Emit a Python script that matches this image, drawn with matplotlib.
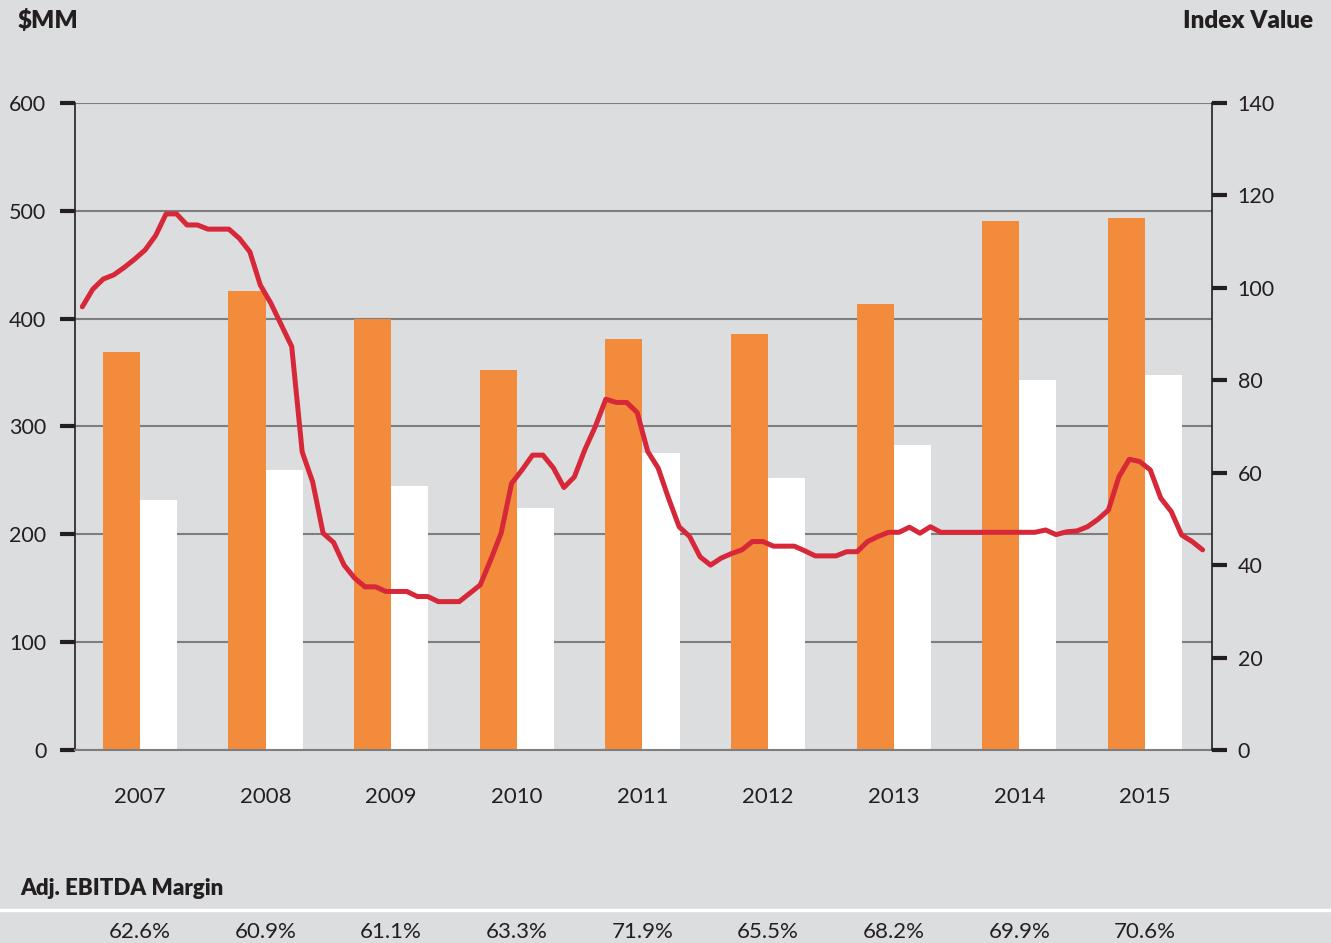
import numpy as np
import matplotlib.pyplot as plt
import matplotlib.transforms as mtrans
from matplotlib.lines import Line2D

plt.rcParams['font.family'] = ['Lato', 'DejaVu Sans']

# ---- data ----
years = ['2007', '2008', '2009', '2010', '2011', '2012', '2013', '2014', '2015']
revenue = [369, 426, 400, 352, 381, 386, 414, 491, 493]      # orange bars, $MM
ebitda = [232, 260, 245, 224, 275, 252, 283, 343, 348]       # white bars, $MM
margin = ['62.6%', '60.9%', '61.1%', '63.3%', '71.9%',
          '65.5%', '68.2%', '69.9%', '70.6%']
# monthly index value (right axis), mid-2006 .. mid-2015
index_val = [95.9, 99.7, 101.9, 102.8, 104.4, 106.2, 108.2, 111.3, 116.0, 116.0,
             113.6, 113.6, 112.7, 112.7, 112.7, 110.7, 107.8, 100.6, 96.7, 92.0,
             87.3, 64.5, 58.0, 46.9, 44.9, 40.0, 37.2, 35.3, 35.3, 34.3,
             34.3, 34.3, 33.2, 33.2, 32.1, 32.1, 32.1, 33.9, 35.7, 41.1,
             46.9, 57.7, 60.6, 63.8, 63.8, 61.0, 56.8, 59.1, 65.0, 70.0,
             75.9, 75.2, 75.2, 73.0, 64.6, 61.0, 54.4, 48.3, 46.2, 41.8,
             40.0, 41.5, 42.5, 43.3, 45.1, 45.1, 44.1, 44.1, 44.1, 43.1,
             42.0, 42.0, 42.0, 42.9, 42.9, 45.1, 46.2, 47.1, 47.1, 48.2,
             46.9, 48.3, 47.1, 47.1, 47.1, 47.1, 47.1, 47.1, 47.1, 47.1,
             47.1, 47.1, 47.6, 46.6, 47.2, 47.4, 48.3, 49.9, 51.9, 59.1,
             62.9, 62.4, 60.6, 54.5, 51.6, 46.5, 45.1, 43.3]

bg = '#dcdddf'
orange = '#f28b3c'
red = '#d62839'
dark = '#231f20'
gridc = '#7d7e80'

fig = plt.figure(figsize=(13.31, 9.43), dpi=100, facecolor=bg)
ax = fig.add_axes([0.0563, 0.2047, 0.8543, 0.6861])
ax.set_facecolor(bg)

x = np.arange(len(years))
w = 0.295
ax.bar(x - w / 2, revenue, w, color=orange, zorder=2)
ax.bar(x + w / 2, ebitda, w, color='white', zorder=2)

ax.set_xlim(-0.517, 8.533)
ax.set_ylim(0, 600)
ax.set_yticks(np.arange(0, 601, 100))
ax.set_xticks(x)
ax.set_xticklabels(years)
ax.set_axisbelow(True)
ax.yaxis.grid(True, color=gridc, lw=1.5)
ax.tick_params(axis='x', length=0, pad=27, labelsize=16, labelcolor=dark)
ax.tick_params(axis='y', direction='out', length=10.5, width=3, color=dark,
               pad=10, labelsize=15.5, labelcolor=dark)
for s in ['top', 'right']:
    ax.spines[s].set_visible(False)
ax.spines['left'].set_color(dark)
ax.spines['left'].set_linewidth(1.2)
ax.spines['bottom'].set_color(gridc)
ax.spines['bottom'].set_linewidth(1.5)

# index line on the right axis
ax2 = ax.twinx()
months = (np.arange(len(index_val)) - 5.5) / 12.0
ax2.plot(months, index_val, color=red, lw=3.6, solid_joinstyle='round',
         solid_capstyle='round', zorder=3)
ax2.set_ylim(0, 140)
ax2.set_yticks(np.arange(0, 141, 20))
ax2.tick_params(axis='y', direction='out', length=10.5, width=3, color=dark,
                pad=8, labelsize=15.5, labelcolor=dark)
for s in ['top', 'left', 'bottom']:
    ax2.spines[s].set_visible(False)
ax2.spines['right'].set_color(dark)
ax2.spines['right'].set_linewidth(1.2)

# headers
fig.text(0.0135, 0.978, '$MM', fontsize=17.5, fontweight='heavy', color=dark,
         ha='left', va='center')
fig.text(0.9865, 0.978, 'Index Value', fontsize=17.5, fontweight='heavy',
         color=dark, ha='right', va='center')

# margin row
fig.text(0.015, 0.058, 'Adj. EBITDA Margin', fontsize=16, fontweight='heavy',
         color=dark, ha='left', va='center')
fig.add_artist(Line2D([0, 1], [0.035, 0.035], color='white', lw=2.5,
                      transform=fig.transFigure))
tr = mtrans.blended_transform_factory(ax.transData, fig.transFigure)
for xi, m in zip(x, margin):
    ax.text(xi, 0.0115, m, transform=tr, fontsize=16, color=dark,
            ha='center', va='center', clip_on=False)

fig.savefig('out.png', dpi=100, facecolor=bg)
